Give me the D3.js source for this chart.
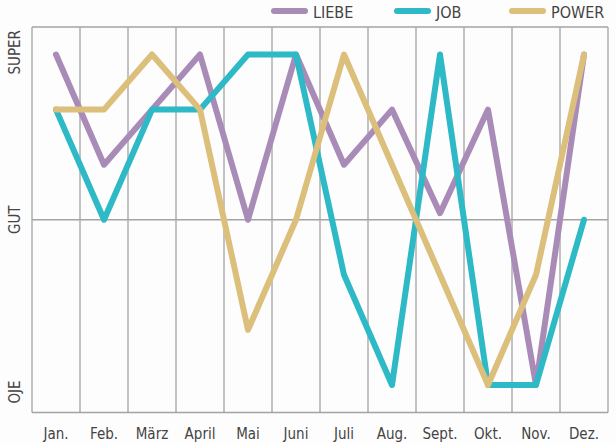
<!DOCTYPE html>
<html>
<head>
<meta charset="utf-8">
<script src="https://cdn.jsdelivr.net/npm/d3@7"></script>
<style>
  html, body { margin: 0; padding: 0; background: #fdfdfd; }
  svg text { font-family: "Liberation Sans Narrow", "DejaVu Sans Condensed", "Liberation Sans", sans-serif; fill: #444; }
</style>
</head>
<body>
<svg id="chart"></svg>
<script>
(function() {

const months = ["Jan.", "Feb.", "März", "April", "Mai", "Juni", "Juli", "Aug.", "Sept.", "Okt.", "Nov.", "Dez."];

// -3 = OJE, 0 = GUT, 3 = SUPER
const liebe = [3, 1, 2, 3, 0, 3, 1, 2, 0.12, 2, -3, 3];
const job   = [2, 0, 2, 2, 3, 3, -1, -3, 3, -3, -3, 0];
const power = [2, 2, 3, 2, -2, 0, 3, 1, -1, -3, -1, 3];

const seriesNames = ["LIEBE", "JOB", "POWER"];
const seriesColors = ["#a98bb7", "#2db9c6", "#dbbf7b"];

const yLabels = ["OJE", "GUT", "SUPER"];
const yLabelValues = [-3.5, 0, 3.5];

const width = 616, height = 443;
const left = 32, right = 608, top = 27, bottom = 412.5;

const svg = d3.select("#chart")
    .attr("width", width)
    .attr("height", height);

const x = d3.scaleBand().domain(months).range([left, right]).padding(0);
const y = d3.scaleLinear().domain([-3.5, 3.5]).range([bottom, top]);

const gridColor = "#a3a3a3";

// vertical grid (band edges)
const edges = months.map(m => x(m)).concat([right]);
svg.append("g")
    .selectAll("line")
    .data(edges)
    .join("line")
    .attr("x1", d => d).attr("x2", d => d)
    .attr("y1", top).attr("y2", bottom)
    .attr("stroke", gridColor)
    .attr("stroke-width", 1.3);

// horizontal lines: top, GUT, bottom
svg.append("g")
    .selectAll("line")
    .data(yLabelValues)
    .join("line")
    .attr("x1", left).attr("x2", right)
    .attr("y1", d => y(d)).attr("y2", d => y(d))
    .attr("stroke", gridColor)
    .attr("stroke-width", 1.3);

// y labels, rotated
const anchors = ["start", "middle", "end"];
const offsets = [9, 0, -3];
svg.append("g")
    .selectAll("text")
    .data(yLabels)
    .join("text")
    .attr("transform", (d, i) => `translate(20, ${y(yLabelValues[i]) - offsets[i]}) rotate(-90)`)
    .attr("text-anchor", (d, i) => anchors[i])
    .attr("font-size", "15px")
    .text(d => d);

// x labels
svg.append("g")
    .selectAll("text")
    .data(months)
    .join("text")
    .attr("x", d => x(d) + x.bandwidth() / 2)
    .attr("y", 439)
    .attr("text-anchor", "middle")
    .attr("font-size", "15px")
    .text(d => d);

// lines
const line = d3.line()
    .x((d, i) => x(months[i]) + x.bandwidth() / 2)
    .y(d => y(d));

const allSeries = [liebe, job, power];
svg.append("g")
    .selectAll("path")
    .data(allSeries)
    .join("path")
    .attr("d", d => line(d))
    .attr("fill", "none")
    .attr("stroke", (d, i) => seriesColors[i])
    .attr("stroke-width", 6)
    .attr("stroke-linejoin", "round")
    .attr("stroke-linecap", "round");

// legend
const legendX = [272, 395, 510];
const legend = svg.append("g")
    .selectAll("g")
    .data(seriesNames)
    .join("g")
    .attr("transform", (d, i) => `translate(${legendX[i]}, 11)`);

legend.append("line")
    .attr("x1", 2).attr("x2", 33)
    .attr("y1", 0).attr("y2", 0)
    .attr("stroke", (d, i) => seriesColors[i])
    .attr("stroke-width", 6)
    .attr("stroke-linecap", "round");

legend.append("text")
    .attr("x", 41)
    .attr("y", 7)
    .attr("font-size", "16px")
    .text(d => d);

})();
</script>
</body>
</html>
